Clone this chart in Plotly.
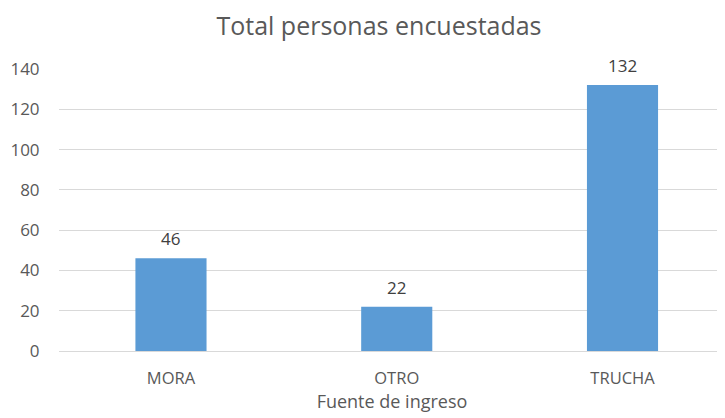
import plotly.graph_objects as go

categories = ["MORA", "OTRO", "TRUCHA"]
values = [46, 22, 132]
y_ticks = [0, 20, 40, 60, 80, 100, 120, 140]

FONT = "Open Sans"
fig = go.Figure(go.Bar(
    x=list(range(len(categories))), y=values,
    marker=dict(color="#5B9BD5", line=dict(width=0)),
    width=0.315, hoverinfo="y",
))
for i, v in enumerate(values):
    fig.add_annotation(x=i, y=v, text=str(v), showarrow=False,
                       yanchor="bottom", yshift=6,
                       font=dict(family=FONT, size=17, color="#404040"))
fig.update_layout(
    width=725, height=418,
    margin=dict(l=51, r=8, t=61, b=75, autoexpand=False),
    paper_bgcolor="white", plot_bgcolor="white",
    showlegend=False,
    title=dict(text="Total personas encuestadas", x=371 / 725, xanchor="center",
               y=1 - 18 / 418, yanchor="middle",
               font=dict(family=FONT, size=25, color="#595959")),
    font=dict(family=FONT, color="#595959"),
)
fig.update_yaxes(range=[0, 140], tickvals=y_ticks, showgrid=True, gridcolor="#D9D9D9",
                 gridwidth=1, zeroline=False, showline=False, automargin=False,
                 ticks="outside", ticklen=15, tickcolor="rgba(0,0,0,0)",
                 tickfont=dict(family=FONT, size=17, color="#595959"))
fig.update_xaxes(range=[-0.496, 2.454], tickvals=list(range(len(categories))),
                 ticktext=categories, showgrid=False, zeroline=False,
                 showline=True, linecolor="#D9D9D9", linewidth=1, automargin=False,
                 ticks="outside", ticklen=12, tickcolor="rgba(0,0,0,0)",
                 tickfont=dict(family=FONT, size=16.5, color="#595959"),
                 title=dict(text="Fuente de ingreso", standoff=7,
                            font=dict(family=FONT, size=18, color="#595959")))
fig.write_html("out.html")
